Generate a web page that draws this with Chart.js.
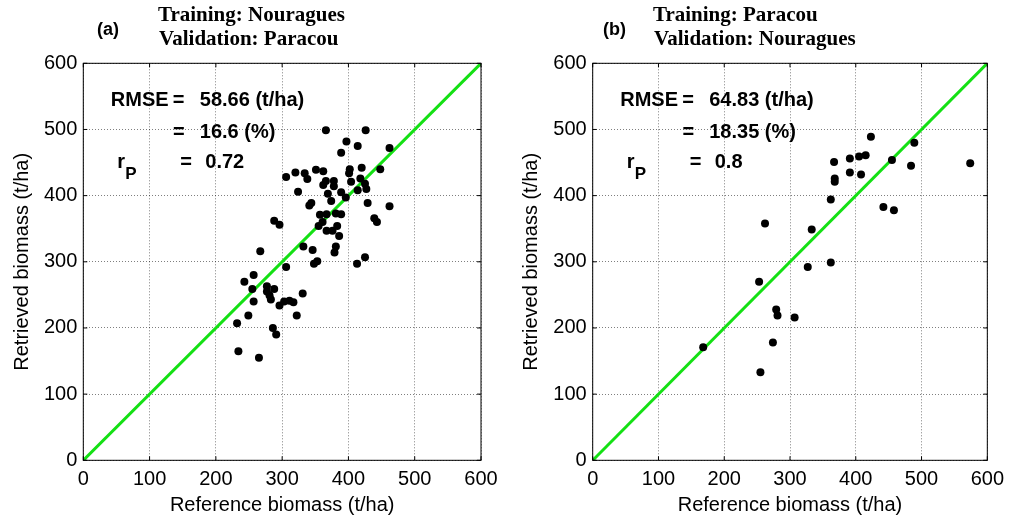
<!DOCTYPE html>
<html><head><meta charset="utf-8">
<script src="https://cdn.jsdelivr.net/npm/chart.js@4.4.0/dist/chart.umd.min.js"></script>
<style>
html,body{margin:0;padding:0;background:#fff;width:1011px;height:521px;overflow:hidden;}
.panel{position:absolute;top:0;height:521px;}
</style></head><body>
<div class="panel" style="left:0;width:505px"><canvas id="ca" width="505" height="521"></canvas></div>
<div class="panel" style="left:505px;width:506px"><canvas id="cb" width="506" height="521"></canvas></div>
<script>
// ---------- data ----------
const axisTicks = [0, 100, 200, 300, 400, 500, 600];
const xTitle = 'Reference biomass (t/ha)';
const yTitle = 'Retrieved biomass (t/ha)';

// Panel (a): Training Nouragues, Validation Paracou
const refA = [366,426,397,414,389,462,320,306,334,338,351,362,324,366,362,378,378,369,374,389,
              396,402,401,420,404,418,414,425,427,429,448,462,439,443,344,341,357,367,381,389,
              361,355,367,376,383,386,381,379,425,413,353,348,332,346,306,288,296,267,257,243,
              255,277,288,277,281,283,257,296,303,311,317,331,322,249,232,286,291,234,265];
const retA = [499,499,482,475,465,472,435,428,434,425,439,437,406,422,416,422,414,403,392,405,
              397,440,434,442,421,426,408,418,410,389,440,384,366,360,389,385,371,372,373,372,
              360,354,347,347,354,339,323,314,307,297,301,297,323,318,292,362,356,316,280,270,
              259,263,259,255,249,243,240,234,240,241,239,252,219,219,207,200,190,165,155];
const titleA = ['Training: Nouragues', 'Validation: Paracou'];
const statsA = ['58.66 (t/ha)', '16.6 (%)', '0.72'];

// Panel (b): Training Paracou, Validation Nouragues
const refB = [367,368,368,362,262,333,362,327,253,279,281,307,274,168,255,423,489,391,405,415,
              455,484,574,391,408,442,458];
const retB = [451,426,421,394,358,349,299,292,270,228,219,216,178,171,133,489,480,456,459,461,
              454,445,449,435,432,383,378];
const titleB = ['Training: Paracou', 'Validation: Nouragues'];
const statsB = ['64.83 (t/ha)', '18.35 (%)', '0.8'];

const oneToOne = [0, 600];

// ---------- drawing ----------
const SANS = '"Liberation Sans", Arial, Helvetica, sans-serif';
const SERIF = '"Liberation Serif", "Times New Roman", serif';

const decor = {
  id: 'decor',
  afterDraw(chart, args, o) {
    const {ctx, chartArea: ca, scales: {x, y}} = chart;
    ctx.save();
    ctx.setLineDash([]);
    ctx.strokeStyle = '#000';
    ctx.lineWidth = 1;
    ctx.strokeRect(ca.left, ca.top, ca.right - ca.left, ca.bottom - ca.top);
    ctx.beginPath();
    axisTicks.forEach(v => {
      const px = x.getPixelForValue(v), py = y.getPixelForValue(v);
      ctx.moveTo(px, ca.bottom); ctx.lineTo(px, ca.bottom - 4);
      ctx.moveTo(px, ca.top); ctx.lineTo(px, ca.top + 4);
      ctx.moveTo(ca.left, py); ctx.lineTo(ca.left + 4, py);
      ctx.moveTo(ca.right, py); ctx.lineTo(ca.right - 4, py);
    });
    ctx.stroke();

    ctx.fillStyle = '#000';
    ctx.textAlign = 'left';
    ctx.textBaseline = 'alphabetic';
    ctx.font = 'bold 18px ' + SANS;
    ctx.fillText(o.tag, o.tagX, 35);
    ctx.font = 'bold 21px ' + SERIF;
    ctx.fillText(o.title[0], o.titleX, 21);
    ctx.fillText(o.title[1], o.titleX + 1, 45);

    const L = ca.left, T = ca.top;
    ctx.font = 'bold 20px ' + SANS;
    ctx.fillText('RMSE', L + 27.5, T + 42.7);
    ctx.fillText('=', L + 89.5, T + 42.7);
    ctx.fillText(o.stats[0], L + 116.5, T + 42.7);
    ctx.fillText('=', L + 89.7, T + 74.7);
    ctx.fillText(o.stats[1], L + 116.5, T + 74.7);
    ctx.fillText('r', L + 34, T + 104.7);
    ctx.fillText('=', L + 97, T + 104.7);
    ctx.fillText(o.stats[2], L + 122, T + 104.7);
    ctx.font = 'bold 17px ' + SANS;
    ctx.fillText('P', L + 42, T + 115.7);
    ctx.restore();
  }
};

function makeChart(id, refs, rets, yWidth, rightPad, yTitlePad, decorOpts) {
  const pts = refs.map((r, i) => ({x: r, y: rets[i]}));
  const tickFont = {family: SANS, size: 20};
  return new Chart(document.getElementById(id), {
    type: 'scatter',
    data: {
      datasets: [
        {
          type: 'line',
          data: oneToOne.map(v => ({x: v, y: v})),
          borderColor: '#14e014',
          borderWidth: 3,
          pointRadius: 0,
          fill: false,
          order: 1
        },
        {
          data: pts,
          backgroundColor: '#000',
          borderColor: '#000',
          borderWidth: 0,
          pointRadius: 4,
          order: 0
        }
      ]
    },
    options: {
      responsive: false,
      animation: false,
      layout: {padding: {top: 63.3, right: rightPad, left: 0, bottom: 0}},
      plugins: {
        legend: {display: false},
        tooltip: {enabled: false},
        decor: decorOpts
      },
      scales: {
        x: {
          type: 'linear', min: 0, max: 600,
          afterBuildTicks: s => { s.ticks = axisTicks.map(v => ({value: v})); },
          ticks: {font: tickFont, color: '#000', padding: 7, maxRotation: 0, autoSkip: false},
          grid: {color: 'rgba(0,0,0,0.5)', lineWidth: 1, drawTicks: false},
          border: {display: false, dash: [1, 2]},
          title: {display: true, text: xTitle, font: tickFont, color: '#000', padding: {top: 0, bottom: 4}},
          afterFit: s => { s.height = 60.7; }
        },
        y: {
          type: 'linear', min: 0, max: 600,
          afterBuildTicks: s => { s.ticks = axisTicks.map(v => ({value: v})); },
          ticks: {font: tickFont, color: '#000', padding: 6, autoSkip: false},
          grid: {color: 'rgba(0,0,0,0.5)', lineWidth: 1, drawTicks: false},
          border: {display: false, dash: [1, 2]},
          title: {display: true, text: yTitle, font: tickFont, color: '#000', padding: {top: yTitlePad, bottom: 0}},
          afterFit: s => { s.width = yWidth; }
        }
      }
    },
    plugins: [decor]
  });
}

makeChart('ca', refA, retA, 83.3, 24, 10,
  {tag: '(a)', tagX: 97, title: titleA, titleX: 158, stats: statsA});
makeChart('cb', refB, retB, 87.7, 20, 14.4,
  {tag: '(b)', tagX: 98, title: titleB, titleX: 148, stats: statsB});
</script>
</body></html>
